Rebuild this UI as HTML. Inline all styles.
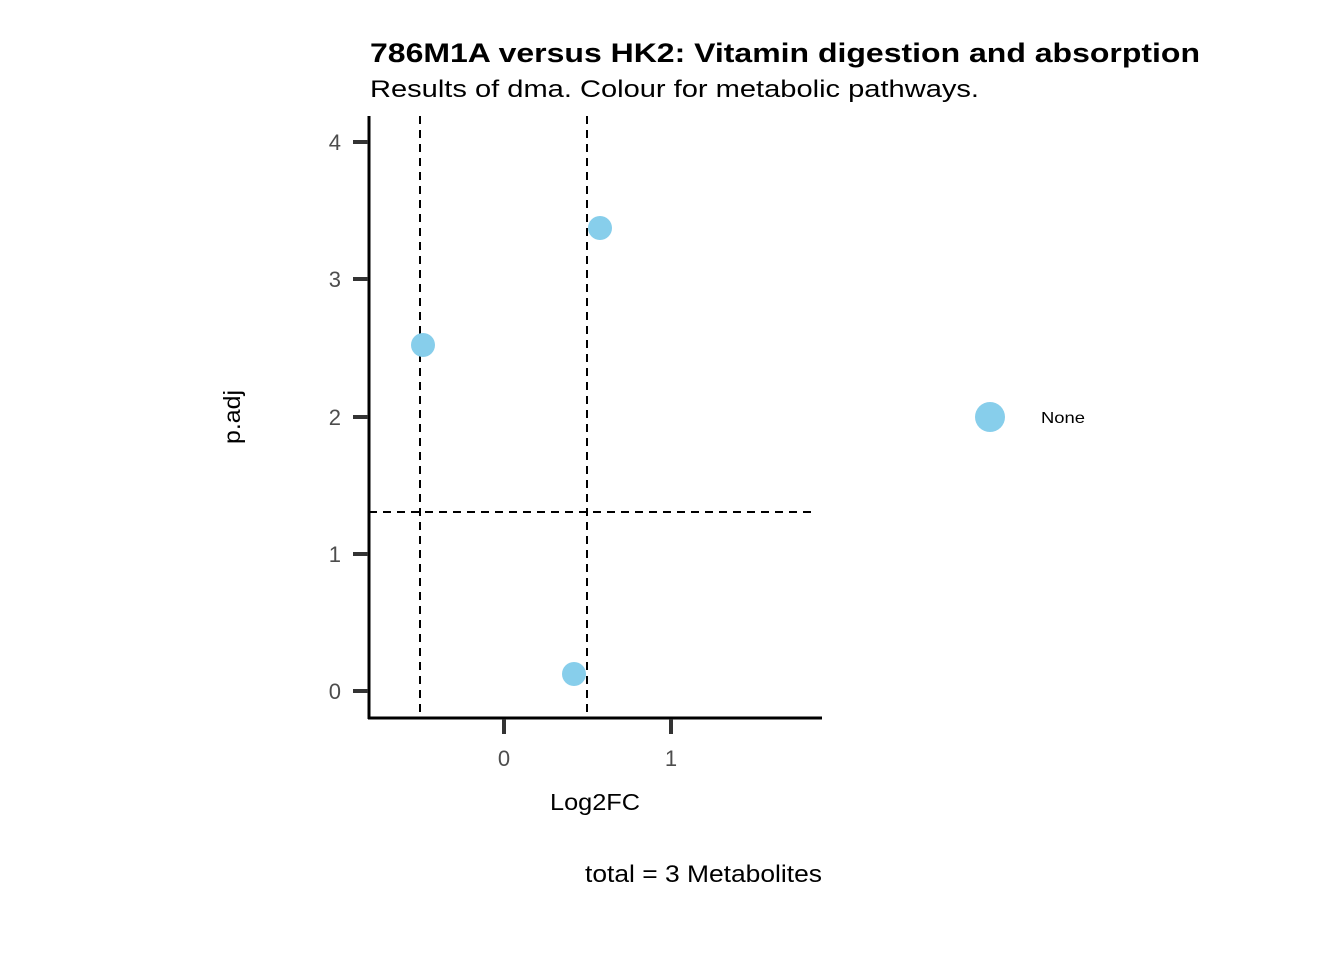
<!DOCTYPE html>
<html><head><style>html,body{margin:0;padding:0;background:#fff}</style></head>
<body>
<svg width="1344" height="960" xmlns="http://www.w3.org/2000/svg" font-family="Liberation Sans, sans-serif">
<rect width="1344" height="960" fill="#fff"/>
<text x="370" y="62" font-size="27" font-weight="bold" textLength="830" lengthAdjust="spacingAndGlyphs">786M1A versus HK2: Vitamin digestion and absorption</text>
<text x="370" y="97" font-size="24" textLength="609" lengthAdjust="spacingAndGlyphs">Results of dma. Colour for metabolic pathways.</text>
<line x1="369" y1="116" x2="369" y2="719" stroke="#000" stroke-width="3"/>
<line x1="368" y1="718" x2="822" y2="718" stroke="#000" stroke-width="3"/>
<g stroke="#333" stroke-width="4">
<line x1="353" y1="142" x2="368" y2="142"/><line x1="353" y1="279" x2="368" y2="279"/>
<line x1="353" y1="417" x2="368" y2="417"/><line x1="353" y1="554" x2="368" y2="554"/>
<line x1="353" y1="691" x2="368" y2="691"/>
<line x1="504" y1="719" x2="504" y2="734"/><line x1="671" y1="719" x2="671" y2="734"/>
</g>
<g font-size="22" fill="#4d4d4d" text-anchor="end">
<text x="341" y="150">4</text><text x="341" y="287">3</text><text x="341" y="425">2</text><text x="341" y="562">1</text><text x="341" y="699">0</text>
</g>
<g font-size="22" fill="#4d4d4d" text-anchor="middle"><text x="504" y="766">0</text><text x="671" y="766">1</text></g>
<g stroke="#000" stroke-width="2" stroke-dasharray="8,6" fill="none">
<line x1="420" y1="116" x2="420" y2="718"/><line x1="587" y1="116" x2="587" y2="718"/>
<line x1="369" y1="512" x2="815" y2="512"/>
</g>
<g fill="#87CEEB"><circle cx="600" cy="228" r="12"/><circle cx="423" cy="345" r="12"/><circle cx="574" cy="674" r="12"/>
<circle cx="990" cy="417" r="15"/></g>
<text x="1041" y="423" font-size="16" textLength="44" lengthAdjust="spacingAndGlyphs">None</text>
<text x="550" y="810" font-size="23" textLength="90" lengthAdjust="spacingAndGlyphs">Log2FC</text>
<text transform="translate(240,444) rotate(-90)" font-size="23" textLength="54" lengthAdjust="spacingAndGlyphs">p.adj</text>
<text x="585" y="882" font-size="24" textLength="237" lengthAdjust="spacingAndGlyphs">total = 3 Metabolites</text>
</svg>
</body></html>
